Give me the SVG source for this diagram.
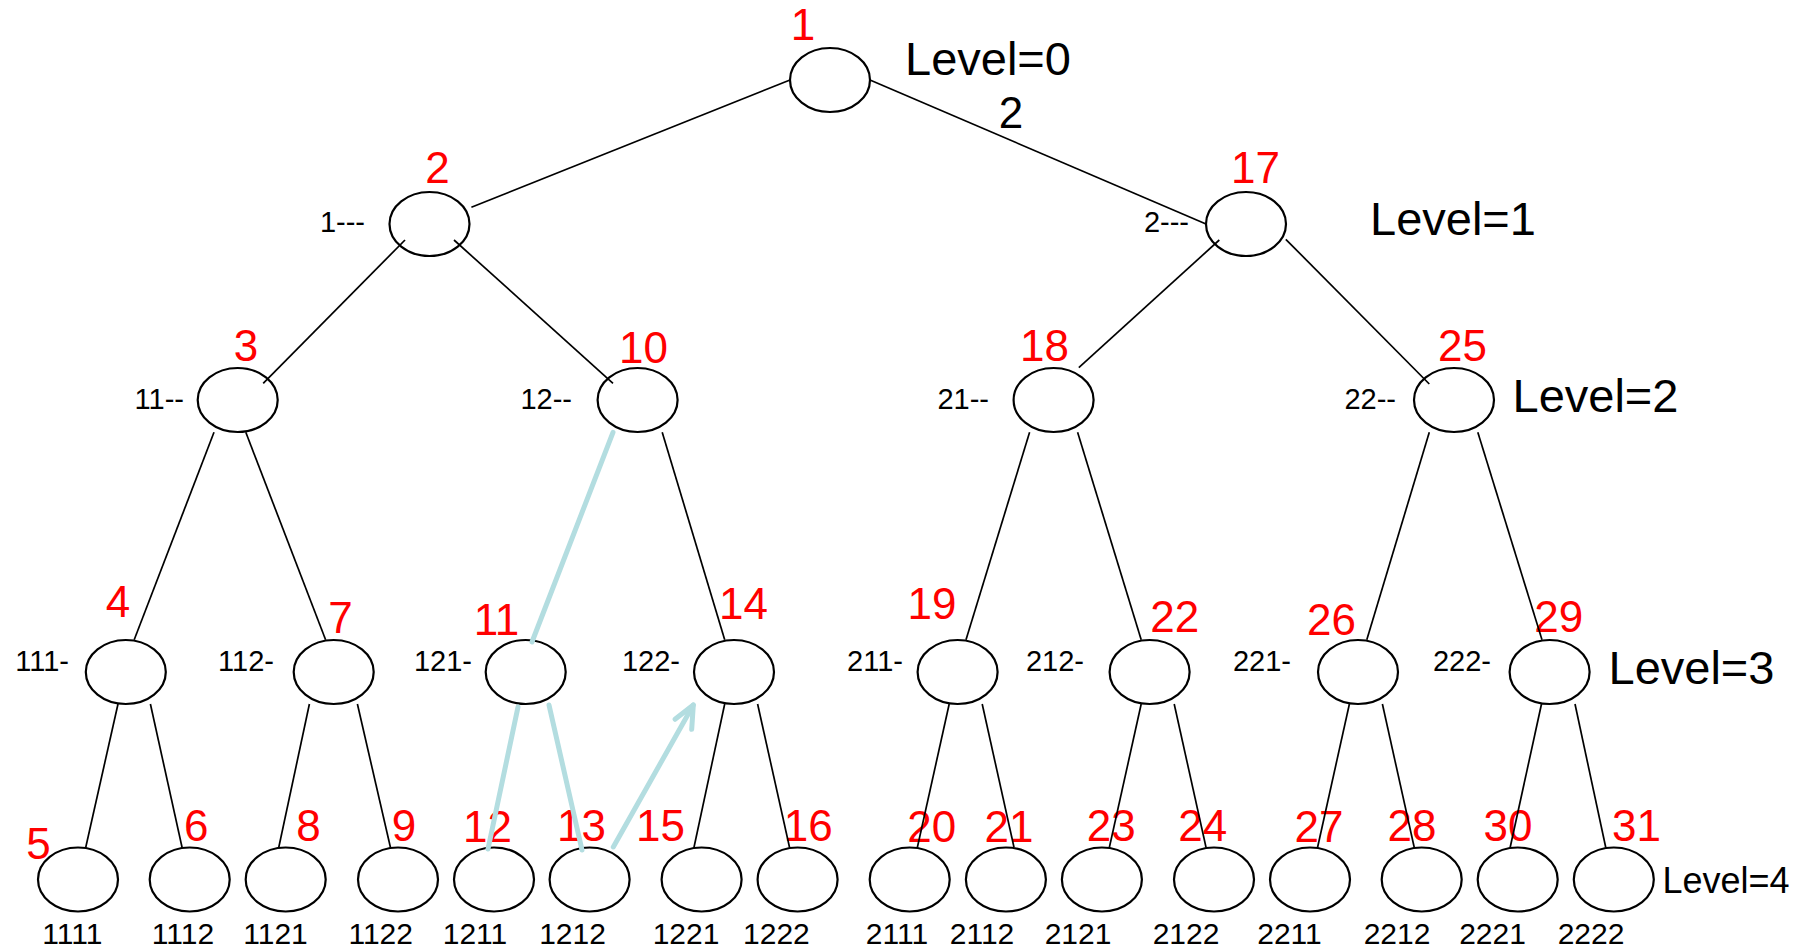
<svg xmlns="http://www.w3.org/2000/svg" width="1814" height="948" viewBox="0 0 1814 948">
  <defs>
    <style>
      .node { fill: #ffffff; stroke: #000000; stroke-width: 2.2; }
      .edge { stroke: #000000; stroke-width: 1.7; fill: none; }
      .trace { stroke: #b3dde0; stroke-width: 5; fill: none; stroke-linecap: round; stroke-linejoin: round; }
      .num { font-family: "Liberation Sans", Arial, sans-serif; font-size: 44px; fill: #ff0000; text-anchor: middle; }
      .pre { font-family: "Liberation Sans", Arial, sans-serif; font-size: 29px; fill: #000000; text-anchor: end; }
      .code { font-family: "Liberation Sans", Arial, sans-serif; font-size: 30px; fill: #000000; text-anchor: middle; }
      .lvl { font-family: "Liberation Sans", Arial, sans-serif; font-size: 47px; fill: #000000; }
      .lvl4 { font-family: "Liberation Sans", Arial, sans-serif; font-size: 36px; fill: #000000; }
    </style>
  </defs>
  <rect width="1814" height="948" fill="#ffffff"/>

  <!-- level 0 -->
  <g id="n1"><ellipse class="node" cx="830" cy="80" rx="40" ry="32"/><text class="num" x="803" y="40">1</text></g>

  <!-- level 1 -->
  <g id="n2"><ellipse class="node" cx="429.5" cy="224" rx="40" ry="32"/><text class="num" x="437.5" y="183">2</text><text class="pre" x="365" y="232">1---</text></g>
  <g id="n17"><ellipse class="node" cx="1246" cy="224" rx="40" ry="32"/><text class="num" x="1255.5" y="183">17</text><text class="pre" x="1189" y="232">2---</text></g>

  <!-- level 2 -->
  <g id="n3"><ellipse class="node" cx="237.7" cy="400" rx="40" ry="32"/><text class="num" x="246" y="361">3</text><text class="pre" x="184" y="409">11--</text></g>
  <g id="n10"><ellipse class="node" cx="637.6" cy="400" rx="40" ry="32"/><text class="num" x="643.5" y="363">10</text><text class="pre" x="572" y="409">12--</text></g>
  <g id="n18"><ellipse class="node" cx="1053.6" cy="400" rx="40" ry="32"/><text class="num" x="1044.4" y="361">18</text><text class="pre" x="989" y="409">21--</text></g>
  <g id="n25"><ellipse class="node" cx="1454" cy="400" rx="40" ry="32"/><text class="num" x="1462.5" y="361">25</text><text class="pre" x="1396" y="409">22--</text></g>

  <!-- level 3 -->
  <g id="n4"><ellipse class="node" cx="125.8" cy="672" rx="40" ry="32"/><text class="num" x="118" y="617">4</text><text class="pre" x="69" y="671">111-</text></g>
  <g id="n7"><ellipse class="node" cx="333.7" cy="672" rx="40" ry="32"/><text class="num" x="340.6" y="633">7</text><text class="pre" x="274" y="671">112-</text></g>
  <g id="n11"><ellipse class="node" cx="525.7" cy="672" rx="40" ry="32"/><text class="num" x="496.5" y="634.5">11</text><text class="pre" x="472" y="671">121-</text></g>
  <g id="n14"><ellipse class="node" cx="734" cy="672" rx="40" ry="32"/><text class="num" x="743.5" y="619">14</text><text class="pre" x="680" y="671">122-</text></g>
  <g id="n19"><ellipse class="node" cx="957.6" cy="672" rx="40" ry="32"/><text class="num" x="932" y="619">19</text><text class="pre" x="903" y="671">211-</text></g>
  <g id="n22"><ellipse class="node" cx="1149.6" cy="672" rx="40" ry="32"/><text class="num" x="1174.8" y="632">22</text><text class="pre" x="1084" y="671">212-</text></g>
  <g id="n26"><ellipse class="node" cx="1358" cy="672" rx="40" ry="32"/><text class="num" x="1331.5" y="634.5">26</text><text class="pre" x="1291" y="671">221-</text></g>
  <g id="n29"><ellipse class="node" cx="1549.6" cy="672" rx="40" ry="32"/><text class="num" x="1558.8" y="632">29</text><text class="pre" x="1491" y="671">222-</text></g>

  <!-- level 4 (leaves) -->
  <g id="n5"><ellipse class="node" cx="78" cy="879.5" rx="40" ry="32"/><text class="num" x="38.5" y="859">5</text><text class="code" x="72.3" y="944">1111</text></g>
  <g id="n6"><ellipse class="node" cx="189.7" cy="879.5" rx="40" ry="32"/><text class="num" x="196.3" y="840.5">6</text><text class="code" x="183" y="944">1112</text></g>
  <g id="n8"><ellipse class="node" cx="285.7" cy="879.5" rx="40" ry="32"/><text class="num" x="308.5" y="840.5">8</text><text class="code" x="275.5" y="944">1121</text></g>
  <g id="n9"><ellipse class="node" cx="398" cy="879.5" rx="40" ry="32"/><text class="num" x="404" y="840.5">9</text><text class="code" x="380.7" y="944">1122</text></g>
  <g id="n12"><ellipse class="node" cx="494" cy="879.5" rx="40" ry="32"/><text class="num" x="487.4" y="842">12</text><text class="code" x="475" y="944">1211</text></g>
  <g id="n13"><ellipse class="node" cx="589.6" cy="879.5" rx="40" ry="32"/><text class="num" x="581.5" y="840.5">13</text><text class="code" x="572.5" y="944">1212</text></g>
  <g id="n15"><ellipse class="node" cx="701.6" cy="879.5" rx="40" ry="32"/><text class="num" x="660.5" y="840.5">15</text><text class="code" x="686" y="944">1221</text></g>
  <g id="n16"><ellipse class="node" cx="797.6" cy="879.5" rx="40" ry="32"/><text class="num" x="808.3" y="840.5">16</text><text class="code" x="776.4" y="944">1222</text></g>
  <g id="n20"><ellipse class="node" cx="909.7" cy="879.5" rx="40" ry="32"/><text class="num" x="931.7" y="842">20</text><text class="code" x="897" y="944">2111</text></g>
  <g id="n21"><ellipse class="node" cx="1005.9" cy="879.5" rx="40" ry="32"/><text class="num" x="1009" y="842">21</text><text class="code" x="982" y="944">2112</text></g>
  <g id="n23"><ellipse class="node" cx="1101.9" cy="879.5" rx="40" ry="32"/><text class="num" x="1111.3" y="840.5">23</text><text class="code" x="1078" y="944">2121</text></g>
  <g id="n24"><ellipse class="node" cx="1214" cy="879.5" rx="40" ry="32"/><text class="num" x="1202.8" y="840.5">24</text><text class="code" x="1186" y="944">2122</text></g>
  <g id="n27"><ellipse class="node" cx="1310" cy="879.5" rx="40" ry="32"/><text class="num" x="1319" y="842">27</text><text class="code" x="1289.5" y="944">2211</text></g>
  <g id="n28"><ellipse class="node" cx="1421.7" cy="879.5" rx="40" ry="32"/><text class="num" x="1412" y="840.5">28</text><text class="code" x="1397" y="944">2212</text></g>
  <g id="n30"><ellipse class="node" cx="1517.7" cy="879.5" rx="40" ry="32"/><text class="num" x="1508" y="840.5">30</text><text class="code" x="1492.5" y="944">2221</text></g>
  <g id="n31"><ellipse class="node" cx="1613.8" cy="879.5" rx="40" ry="32"/><text class="num" x="1636.4" y="840.5">31</text><text class="code" x="1591" y="944">2222</text></g>

  <!-- tree edges -->
  <g id="connectors">
    <line class="edge" x1="790" y1="80" x2="471.4" y2="207.3"/>
    <line class="edge" x1="870" y1="80" x2="1206" y2="224"/>
    <line class="edge" x1="405" y1="240" x2="263.2" y2="383.3"/>
    <line class="edge" x1="454" y1="240" x2="613" y2="383.3"/>
    <line class="edge" x1="1219.3" y1="240" x2="1078.8" y2="367.7"/>
    <line class="edge" x1="1285.8" y1="239.3" x2="1429.3" y2="384"/>
    <line class="edge" x1="214" y1="432.3" x2="134.2" y2="639.7"/>
    <line class="edge" x1="245.8" y1="432.3" x2="325.6" y2="639.7"/>
    <line class="edge" x1="662.2" y1="432.3" x2="724.7" y2="639.7"/>
    <line class="edge" x1="1029.6" y1="432.3" x2="966" y2="639.7"/>
    <line class="edge" x1="1077.6" y1="432.3" x2="1141.2" y2="639.7"/>
    <line class="edge" x1="1429.3" y1="432.3" x2="1366.8" y2="639.7"/>
    <line class="edge" x1="1477.8" y1="432.3" x2="1542" y2="639.7"/>
    <line class="edge" x1="118" y1="704" x2="85.6" y2="848"/>
    <line class="edge" x1="150.4" y1="704" x2="182.2" y2="848"/>
    <line class="edge" x1="309.4" y1="704" x2="278.8" y2="847.3"/>
    <line class="edge" x1="357.4" y1="704" x2="390.4" y2="847.3"/>
    <line class="edge" x1="724.7" y1="704" x2="694" y2="847.3"/>
    <line class="edge" x1="757.6" y1="704" x2="789.5" y2="847.3"/>
    <line class="edge" x1="949.2" y1="704" x2="917.4" y2="847.3"/>
    <line class="edge" x1="982.2" y1="704" x2="1014" y2="847.3"/>
    <line class="edge" x1="1141.2" y1="704" x2="1109.4" y2="847.3"/>
    <line class="edge" x1="1174.2" y1="704" x2="1206" y2="847.3"/>
    <line class="edge" x1="1349.4" y1="704" x2="1317.6" y2="847.3"/>
    <line class="edge" x1="1382.4" y1="704" x2="1414.2" y2="847.3"/>
    <line class="edge" x1="1541.5" y1="704" x2="1510.2" y2="847.3"/>
    <line class="edge" x1="1575" y1="704" x2="1605.7" y2="847.3"/>
    <!-- highlighted traversal path -->
    <line class="trace" x1="613" y1="432.3" x2="532" y2="642"/>
    <line class="trace" x1="518" y1="707" x2="488" y2="849"/>
    <line class="trace" x1="549" y1="705" x2="582" y2="850"/>
    <line class="trace" x1="613.3" y1="847" x2="693.3" y2="705"/>
    <polyline class="trace" points="675,719.3 693.3,705 691.7,729.3"/>
  </g>

  <!-- level captions -->
  <text class="lvl" x="905" y="75">Level=0</text>
  <text class="num" x="1011" y="128" style="fill:#000000">2</text>
  <text class="lvl" x="1370" y="235">Level=1</text>
  <text class="lvl" x="1512.5" y="412">Level=2</text>
  <text class="lvl" x="1608.5" y="684">Level=3</text>
  <text class="lvl4" x="1662.5" y="892.5">Level=4</text>
</svg>
